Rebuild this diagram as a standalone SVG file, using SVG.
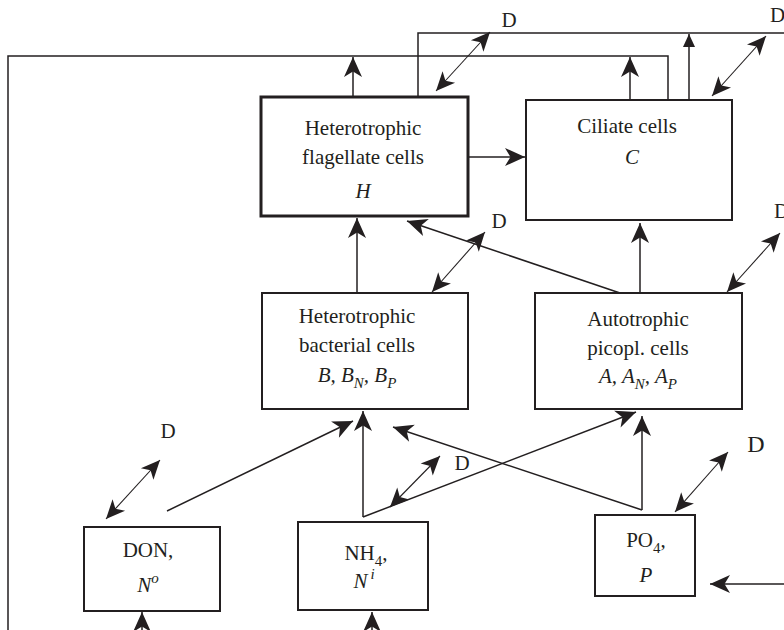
<svg xmlns="http://www.w3.org/2000/svg" width="784" height="630" viewBox="0 0 784 630">
<style>
text{font-family:"Liberation Serif","Times New Roman",serif;font-size:21px;fill:#231f20;text-anchor:middle}
.it{font-style:italic}
.box{fill:#fff;stroke:#231f20;stroke-width:2}
.thick{stroke-width:3}
.ln{fill:none;stroke:#231f20;stroke-width:1.5}
.arr{fill:none;stroke:#231f20;stroke-width:1.5;marker-end:url(#ah)}
.dbl{fill:none;stroke:#231f20;stroke-width:1.1;marker-start:url(#ah2);marker-end:url(#ah2)}
.dl{text-anchor:start}
</style>
<defs>
<marker id="ah" viewBox="-21 -10 22 20" refX="0" refY="0" markerWidth="22" markerHeight="20" markerUnits="userSpaceOnUse" orient="auto-start-reverse"><path d="M0,0 L-20,-9 L-14.5,0 L-20,9 Z" fill="#231f20"/></marker>
<marker id="ah2" viewBox="-21 -10 22 20" refX="0" refY="0" markerWidth="22" markerHeight="20" markerUnits="userSpaceOnUse" orient="auto-start-reverse"><path d="M0,0 L-19,-8.5 L-14,0 L-19,8.5 Z" fill="#231f20"/></marker>
<marker id="sm" viewBox="-13 -7 14 14" refX="0" refY="0" markerWidth="14" markerHeight="14" markerUnits="userSpaceOnUse" orient="auto"><path d="M0,0 L-13,-6 L-13,6 Z" fill="#231f20"/></marker>
</defs>

<g id="connectors">
<polyline class="ln" points="8,630 8,56 668,56 668,100"/>
<polyline class="ln" points="418,97 418,33 784,33"/>
<line class="arr" x1="353" y1="97" x2="353" y2="57"/>
<line class="arr" x1="630" y1="100" x2="630" y2="57"/>
<line class="ln" x1="689" y1="100" x2="689" y2="34" marker-end="url(#sm)"/>
<line class="arr" x1="468" y1="157" x2="525" y2="157"/>
<line class="arr" x1="357" y1="293" x2="357" y2="218"/>
<line class="arr" x1="640" y1="293" x2="640" y2="223"/>
<line class="arr" x1="620" y1="293" x2="407" y2="221"/>
<line class="arr" x1="363" y1="517" x2="363" y2="411"/>
<line class="arr" x1="363" y1="517" x2="636" y2="412"/>
<line class="arr" x1="167" y1="511" x2="353" y2="421"/>
<line class="arr" x1="642" y1="510" x2="642" y2="416"/>
<line class="arr" x1="642" y1="510" x2="393" y2="427"/>
<line class="arr" x1="784" y1="584" x2="710" y2="584"/>
<line class="arr" x1="142" y1="630" x2="142" y2="612"/>
<line class="arr" x1="372" y1="630" x2="372" y2="612"/>
<line class="dbl" x1="436" y1="91" x2="490" y2="32"/>
<line class="dbl" x1="712" y1="96" x2="766" y2="36"/>
<line class="dbl" x1="432" y1="292" x2="485" y2="232"/>
<line class="dbl" x1="727" y1="292" x2="780" y2="233"/>
<line class="dbl" x1="106" y1="519" x2="160" y2="460"/>
<line class="dbl" x1="390" y1="507" x2="440" y2="456"/>
<line class="dbl" x1="675" y1="512" x2="728" y2="452"/>
</g>

<g id="labels-D">
<text x="509" y="27">D</text>
<text class="dl" x="770" y="22">D</text>
<text x="499" y="228">D</text>
<text class="dl" x="774" y="218">D</text>
<text x="168" y="438">D</text>
<text x="462" y="470">D</text>
<text x="756" y="452" style="font-size:24px">D</text>
</g>

<g id="node-H">
<rect class="box thick" x="261" y="97" width="207" height="119"/>
<text x="363" y="135">Heterotrophic</text>
<text x="363" y="164">flagellate cells</text>
<text class="it" x="363" y="198">H</text>
</g>

<g id="node-C">
<rect class="box" x="526" y="100" width="206" height="120"/>
<text x="627" y="133">Ciliate cells</text>
<text class="it" x="632" y="164">C</text>
</g>

<g id="node-B">
<rect class="box" x="262" y="293" width="206" height="116"/>
<text x="357" y="323">Heterotrophic</text>
<text x="357" y="352">bacterial cells</text>
<text class="it" x="357" y="382">B, B<tspan font-size="15" dy="6">N</tspan><tspan dy="-6">, B</tspan><tspan font-size="15" dy="6">P</tspan></text>
</g>

<g id="node-A">
<rect class="box" x="535" y="293" width="207" height="116"/>
<text x="638" y="326">Autotrophic</text>
<text x="638" y="355">picopl. cells</text>
<text class="it" x="638" y="383">A, A<tspan font-size="15" dy="6">N</tspan><tspan dy="-6">, A</tspan><tspan font-size="15" dy="6">P</tspan></text>
</g>

<g id="node-DON">
<rect class="box" x="84" y="527" width="136" height="84"/>
<text x="148" y="557">DON,</text>
<text class="it" x="148" y="592">N<tspan font-size="15" dy="-9">o</tspan></text>
</g>

<g id="node-NH4">
<rect class="box" x="298" y="522" width="130" height="88"/>
<text x="366" y="560">NH<tspan font-size="15" dy="6">4</tspan><tspan dy="-6">,</tspan></text>
<text class="it" x="364" y="588">N<tspan font-size="15" dy="-9" dx="3">i</tspan></text>
</g>

<g id="node-PO4">
<rect class="box" x="595" y="515" width="100" height="81"/>
<text x="646" y="547">PO<tspan font-size="15" dy="6">4</tspan><tspan dy="-6">,</tspan></text>
<text class="it" x="646" y="582">P</text>
</g>
</svg>
